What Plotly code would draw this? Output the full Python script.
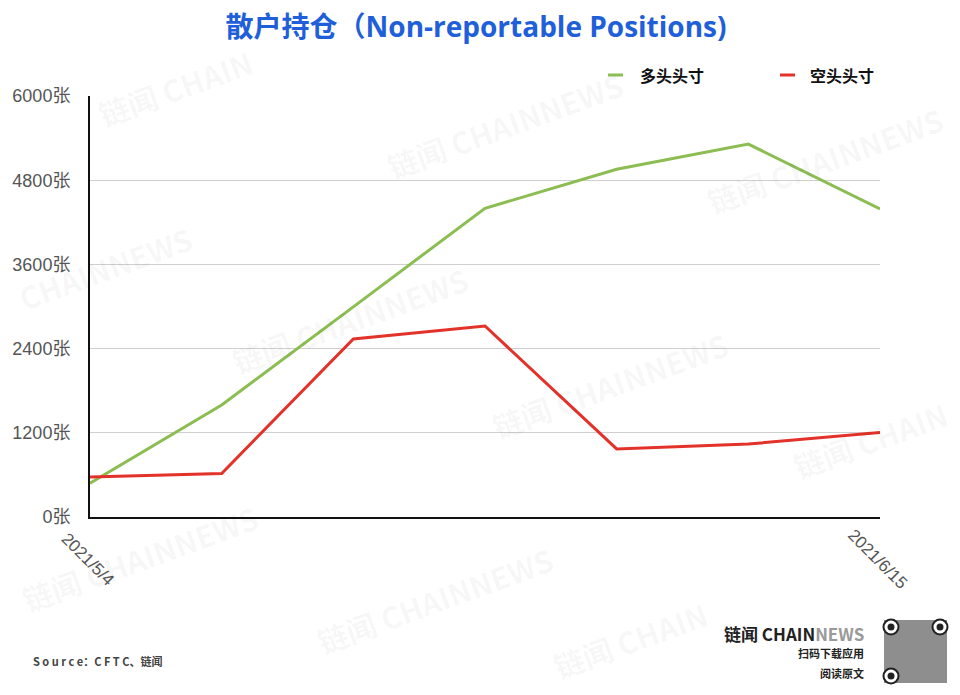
import plotly.graph_objects as go

dates = ["2021-05-04", "2021-05-11", "2021-05-18", "2021-05-25", "2021-06-01", "2021-06-08", "2021-06-15"]
long_pos = [480, 1596, 2995, 4400, 4955, 5315, 4390]
short_pos = [570, 620, 2537, 2722, 970, 1040, 1205]
series_names = ["多头头寸", "空头头寸"]
x_tick_labels = ["2021/5/4", "2021/6/15"]
y_ticks = [0, 1200, 2400, 3600, 4800, 6000]
y_tick_labels = [f"{v}张" for v in y_ticks]

GREEN = "#8cbd52"
RED = "#e2322a"
CJK = "Noto Sans CJK SC"

# page body has 8px margin: plot area target in viewport px = x 90..880, y 96..517
PL, PR, PT, PB = 90, 880, 96, 517

def paper_xy(px, py):
    return (px - PL) / (PR - PL), (PB - py) / (PB - PT)

fig = go.Figure()
fig.add_trace(go.Scatter(x=dates, y=long_pos, mode="lines", name=series_names[0],
                         line=dict(color=GREEN, width=3), showlegend=False))
fig.add_trace(go.Scatter(x=dates, y=short_pos, mode="lines", name=series_names[1],
                         line=dict(color=RED, width=3), showlegend=False))

W, H = 952, 687
fig.update_layout(
    width=W, height=H,
    margin=dict(l=PL - 8, r=W + 8 - PR, t=PT - 8, b=H + 8 - PB),
    paper_bgcolor="white", plot_bgcolor="white",
    title=dict(text="<b>散户持仓（Non-reportable Positions)</b>", x=(476 - 8) / W, xanchor="center",
               y=1 - (27 - 8) / H, yanchor="middle",
               font=dict(family="Open Sans, " + CJK, size=28, color="#1f5fd9")),
    xaxis=dict(type="date", range=[dates[0], dates[-1]], showgrid=False, showticklabels=False,
               showline=True, linecolor="#111", linewidth=2, zeroline=False, ticks="",
               automargin=False),
    yaxis=dict(range=[0, 6000], tickvals=y_ticks, ticktext=y_tick_labels, showgrid=True,
               gridcolor="#cfcfcf", gridwidth=1, showline=True, linecolor="#111", linewidth=2,
               zeroline=False, ticklabelstandoff=14, automargin=False,
               tickfont=dict(family="Liberation Sans, " + CJK, size=18, color="#555")),
    showlegend=False,
)

# x tick labels (rotated, centred on tick)
for d, lab, xs in [(dates[0], x_tick_labels[0], -2), (dates[-1], x_tick_labels[1], -2)]:
    fig.add_annotation(x=d, y=0, xref="x", yref="paper", text=lab, showarrow=False,
                       textangle=45, xanchor="center", yanchor="middle", yshift=-42, xshift=xs,
                       font=dict(family="Liberation Sans", size=17, color="#555"))

# manual legend
for (x0, x1, tx, col, name) in [(608, 623, 638, GREEN, series_names[0]), (780, 795, 808, RED, series_names[1])]:
    a0, ly = paper_xy(x0, 75)
    a1, _ = paper_xy(x1, 75)
    at, _ = paper_xy(tx, 75)
    fig.add_shape(type="line", xref="paper", yref="paper", x0=a0, x1=a1, y0=ly, y1=ly,
                  line=dict(color=col, width=3))
    fig.add_annotation(x=at, y=ly, xref="paper", yref="paper", text=f"<b>{name}</b>",
                       showarrow=False, xanchor="left", yanchor="middle",
                       font=dict(family=CJK, size=16, color="#111"))

# watermarks
wm = [(175, 88, "链闻 CHAIN"), (505, 125, "链闻 CHAINNEWS"), (825, 160, "链闻 CHAINNEWS"),
      (105, 268, "CHAINNEWS"), (350, 320, "链闻 CHAINNEWS"), (610, 385, "链闻 CHAINNEWS"),
      (870, 440, "链闻 CHAIN"), (140, 558, "链闻 CHAINNEWS"), (435, 600, "链闻 CHAINNEWS"),
      (630, 640, "链闻 CHAIN")]
for (px, py, t) in wm:
    ax, ay = paper_xy(px, py)
    fig.add_annotation(x=ax, y=ay, xref="paper", yref="paper",
                       text=f"<b>{t}</b>", showarrow=False, textangle=-20,
                       xanchor="center", yanchor="middle",
                       font=dict(family=CJK, size=30, color="rgba(0,0,0,0.045)"))

# footer
sx, sy = paper_xy(31, 661)
fig.add_annotation(x=sx, y=sy, xref="paper", yref="paper", text="<b>S o u r c e：C F T C、链闻</b>",
                   showarrow=False, xanchor="left", yanchor="middle",
                   font=dict(family=CJK, size=11, color="#444"))
lx, ly = paper_xy(866, 633)
fig.add_annotation(x=lx, y=ly, xref="paper", yref="paper",
                   text="<b>链闻 CHAIN<span style='color:#9a9a9a'>NEWS</span></b>",
                   showarrow=False, xanchor="right", yanchor="middle",
                   font=dict(family=CJK, size=17, color="#222"))
for txt, py in [("扫码下载应用", 653), ("阅读原文", 673)]:
    qx, qy = paper_xy(866, py)
    fig.add_annotation(x=qx, y=qy, xref="paper", yref="paper", text=f"<b>{txt}</b>",
                       showarrow=False, xanchor="right", yanchor="middle",
                       font=dict(family=CJK, size=11, color="#222"))

# QR code placeholder
def rect(x0, y0, x1, y1, **kw):
    a0, b0 = paper_xy(x0, y0)
    a1, b1 = paper_xy(x1, y1)
    fig.add_shape(type="rect", xref="paper", yref="paper", x0=a0, y0=b1, x1=a1, y1=b0, **kw)

def circ(cx, cy, r, **kw):
    a0, b0 = paper_xy(cx - r, cy - r)
    a1, b1 = paper_xy(cx + r, cy + r)
    fig.add_shape(type="circle", xref="paper", yref="paper", x0=a0, y0=b1, x1=a1, y1=b0, **kw)

rect(884, 620, 947, 683, fillcolor="rgba(50,50,50,0.55)", line=dict(width=0))
for cx, cy in [(891, 627), (940, 627), (891, 676)]:
    circ(cx, cy, 7.5, fillcolor="white", line=dict(color="#222", width=2))
    circ(cx, cy, 3.5, fillcolor="#222", line=dict(width=0))

fig.write_html("out.html")
